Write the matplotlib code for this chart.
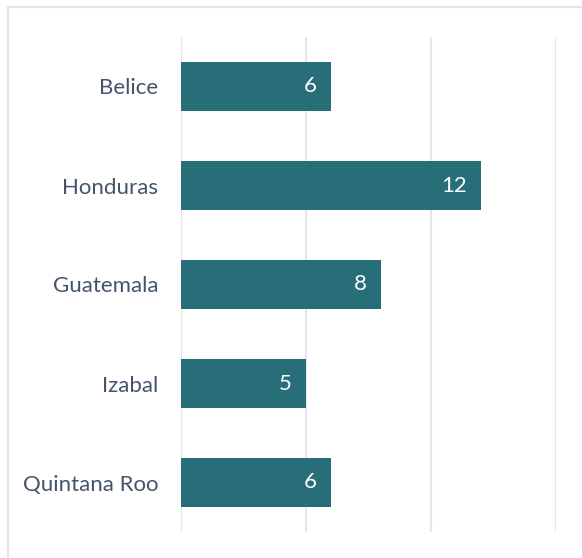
import matplotlib
matplotlib.use('Agg')
import matplotlib.pyplot as plt
from matplotlib.patches import Rectangle

categories = ['Belice', 'Honduras', 'Guatemala', 'Izabal', 'Quintana Roo']
values = [6, 12, 8, 5, 6]
x_ticks = [0, 5, 10, 15]

bar_color = '#276e79'
text_color = '#44546a'
grid_color = '#e4e7ec'

plt.rcParams['font.family'] = ['Lato', 'DejaVu Sans']

fig = plt.figure(figsize=(5.82, 5.58), dpi=100)
ax = fig.add_axes([181 / 582, 26 / 558, 375 / 582, 495 / 558])

y = list(range(len(categories)))
bars = ax.barh(y, values, height=0.5, color=bar_color, zorder=3)
ax.set_ylim(len(categories) - 0.5, -0.5)
ax.set_xlim(0, 15)

ax.set_xticks(x_ticks)
ax.xaxis.grid(True, color=grid_color, linewidth=1.5, zorder=0)
ax.tick_params(axis='x', length=0, labelbottom=False)
ax.tick_params(axis='y', length=0, pad=16.5)
ax.set_yticks(y)
ax.set_yticklabels(categories, fontsize=16, color=text_color)
for s in ax.spines.values():
    s.set_visible(False)

for rect, v in zip(bars, values):
    ax.annotate(str(v), xy=(rect.get_width(), rect.get_y() + rect.get_height() / 2),
                xytext=(-10, 0), textcoords='offset points', ha='right', va='center',
                color='white', fontsize=16, zorder=4)

# outer chart frame (right/bottom edges run off the image)
fig.patches.append(Rectangle((7.5 / 582, -0.1), 1.2, 1.1 - 7.5 / 558,
                             transform=fig.transFigure, fill=False,
                             edgecolor='#e3e5ea', linewidth=1.5))

fig.savefig('out.png', dpi=100)
